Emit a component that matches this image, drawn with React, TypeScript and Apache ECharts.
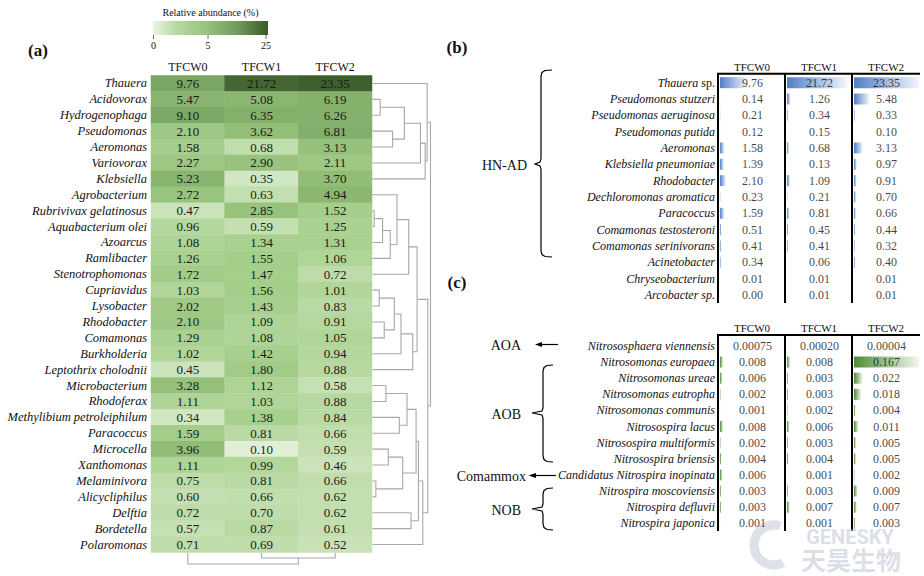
import React, { useEffect, useRef } from 'react';
import * as echarts from 'echarts';

// ---------- (a) heatmap data ----------
const samples = ['TFCW0', 'TFCW1', 'TFCW2'];
const genera = ['Thauera', 'Acidovorax', 'Hydrogenophaga', 'Pseudomonas', 'Aeromonas', 'Variovorax', 'Klebsiella', 'Agrobacterium', 'Rubrivivax gelatinosus', 'Aquabacterium olei', 'Azoarcus', 'Ramlibacter', 'Stenotrophomonas', 'Cupriavidus', 'Lysobacter', 'Rhodobacter', 'Comamonas', 'Burkholderia', 'Leptothrix cholodnii', 'Microbacterium', 'Rhodoferax', 'Methylibium petroleiphilum', 'Paracoccus', 'Microcella', 'Xanthomonas', 'Melaminivora', 'Alicycliphilus', 'Delftia', 'Bordetella', 'Polaromonas'];
const tfcw0 = [9.76, 5.47, 9.10, 2.10, 1.58, 2.27, 5.23, 2.72, 0.47, 0.96, 1.08, 1.26, 1.72, 1.03, 2.02, 2.10, 1.29, 1.02, 0.45, 3.28, 1.11, 0.34, 1.59, 3.96, 1.11, 0.75, 0.60, 0.72, 0.57, 0.71];
const tfcw1 = [21.72, 5.08, 6.35, 3.62, 0.68, 2.90, 0.35, 0.63, 2.85, 0.59, 1.34, 1.55, 1.47, 1.56, 1.43, 1.09, 1.08, 1.42, 1.80, 1.12, 1.03, 1.38, 0.81, 0.10, 0.99, 0.81, 0.66, 0.70, 0.87, 0.69];
const tfcw2 = [23.35, 6.19, 6.26, 6.81, 3.13, 2.11, 3.70, 4.94, 1.52, 1.25, 1.31, 1.06, 0.72, 1.01, 0.83, 0.91, 1.05, 0.94, 0.88, 0.58, 0.88, 0.84, 0.66, 0.59, 0.46, 0.66, 0.62, 0.62, 0.61, 0.52];
const legendTicks = ['0', '5', '25'];

// dendrogram merges: [childA, childB, height]; index >= leaves refers to earlier merge
const rowMerges = [[1, 2, 23], [3, 4, 60], [30, 31, 95], [32, 5, 143], [33, 6, 157], [0, 34, 163], [8, 9, 5], [36, 10, 30], [37, 11, 53], [7, 38, 73], [39, 12, 108], [13, 14, 20], [15, 16, 35], [41, 42, 65], [43, 17, 85], [44, 18, 120], [40, 45, 133], [19, 20, 40], [21, 22, 80], [47, 48, 103], [23, 24, 47], [25, 26, 10], [50, 51, 90], [49, 52, 130], [27, 28, 115], [53, 54, 137], [55, 29, 150], [46, 56, 165], [35, 57, 173]];
const colMerges = [[1, 2, 5], [0, 3, 11]];

// ---------- (b) HN-AD table ----------
const hnadSpecies = ['Thauera sp.', 'Pseudomonas stutzeri', 'Pseudomonas aeruginosa', 'Pseudomonas putida', 'Aeromonas', 'Klebsiella pneumoniae', 'Rhodobacter', 'Dechloromonas aromatica', 'Paracoccus', 'Comamonas testosteroni', 'Comamonas serinivorans', 'Acinetobacter', 'Chryseobacterium', 'Arcobacter sp.'];
const hnad0 = [9.76, 0.14, 0.21, 0.12, 1.58, 1.39, 2.10, 0.23, 1.59, 0.51, 0.41, 0.34, 0.01, 0.00];
const hnad1 = [21.72, 1.26, 0.34, 0.15, 0.68, 0.13, 1.09, 0.21, 0.81, 0.45, 0.41, 0.06, 0.01, 0.01];
const hnad2 = [23.35, 5.48, 0.33, 0.10, 3.13, 0.97, 0.91, 0.70, 0.66, 0.44, 0.32, 0.40, 0.01, 0.01];

// ---------- (c) nitrifier table ----------
const nitSpecies = ['Nitrososphaera viennensis', 'Nitrosomonas europaea', 'Nitrosomonas ureae', 'Nitrosomonas eutropha', 'Nitrosomonas communis', 'Nitrosospira lacus', 'Nitrosospira multiformis', 'Nitrosospira briensis', 'Candidatus Nitrospira inopinata', 'Nitrospira moscoviensis', 'Nitrospira defluvii', 'Nitrospira japonica'];
const nit0 = [0.00075, 0.008, 0.006, 0.002, 0.001, 0.008, 0.002, 0.004, 0.006, 0.003, 0.003, 0.001];
const nit1 = [0.00020, 0.008, 0.003, 0.003, 0.002, 0.006, 0.003, 0.004, 0.001, 0.003, 0.007, 0.001];
const nit2 = [0.00004, 0.167, 0.022, 0.018, 0.004, 0.011, 0.005, 0.005, 0.002, 0.009, 0.007, 0.003];

const FONT = 'Liberation Serif';

function buildLinks(nLeaves: number, merges: number[][]) {
  const pos: number[] = [];
  const hgt: number[] = [];
  for (let i = 0; i < nLeaves; i++) { pos.push(i); hgt.push(0); }
  const links: number[][] = [];
  merges.forEach(([a, b, h]) => {
    links.push([pos[a], hgt[a], pos[b], hgt[b], h]);
    pos.push((pos[a] + pos[b]) / 2);
    hgt.push(h);
  });
  return links;
}

function brace(x: number, y1: number, y2: number, ym: number, tipX: number, hookX: number) {
  return [
    [hookX, y1], [x + 4, y1 + 0.5], [x + 1, y1 + 2.5], [x, y1 + 6],
    [x, ym - 5], [x - 1, ym - 2], [tipX, ym], [x - 1, ym + 2], [x, ym + 5],
    [x, y2 - 6], [x + 1, y2 - 2.5], [x + 4, y2 - 0.5], [hookX, y2],
  ];
}

export default function App() {
  const ref = useRef<HTMLDivElement>(null);
  useEffect(() => {
    const chart = echarts.init(ref.current!, null, { renderer: 'svg' });

    const heatData: number[][] = [];
    [tfcw0, tfcw1, tfcw2].forEach((arr, c) => arr.forEach((v, r) => heatData.push([c, r, v, Math.log1p(v)])));
    const rowLinks = buildLinks(genera.length, rowMerges);
    const colLinks = buildLinks(samples.length, colMerges);

    const heatColors = ['#e8f3df', '#a9d18f', '#8fbb74', '#78a362', '#395a29'];

    const grids: any[] = [
      { left: 151, top: 75.5, width: 221, height: 477 },
      { left: 372.5, top: 75.5, width: 58, height: 477 },
      { left: 151, top: 553, width: 221, height: 11 },
    ];
    const xAxes: any[] = [
      {
        gridIndex: 0, type: 'category', data: samples, position: 'top',
        axisLine: { show: false }, axisTick: { show: false }, splitLine: { show: false },
        axisLabel: { fontFamily: FONT, fontSize: 12, color: '#111', margin: 3, interval: 0 },
      },
      { gridIndex: 1, type: 'value', min: 0, max: 173, show: false },
      { gridIndex: 2, type: 'value', min: -0.5, max: 2.5, show: false },
    ];
    const yAxes: any[] = [
      {
        gridIndex: 0, type: 'category', data: genera, inverse: true,
        axisLine: { show: false }, axisTick: { show: false }, splitLine: { show: false },
        axisLabel: { fontFamily: FONT, fontSize: 12.5, fontStyle: 'italic', color: '#111', margin: 4, interval: 0 },
      },
      { gridIndex: 1, type: 'value', min: -0.5, max: 29.5, inverse: true, show: false },
      { gridIndex: 2, type: 'value', min: 0, max: 11, inverse: true, show: false },
    ];
    const series: any[] = [
      {
        type: 'heatmap', xAxisIndex: 0, yAxisIndex: 0, data: heatData, silent: true,
        label: {
          show: true, fontFamily: FONT, fontSize: 13, color: '#1a1a1a',
          formatter: (p: any) => Number(p.value[2]).toFixed(2),
        },
        itemStyle: { borderWidth: 0 },
      },
      {
        type: 'custom', xAxisIndex: 1, yAxisIndex: 1, data: rowLinks, silent: true,
        renderItem: (params: any, api: any) => {
          const pA = api.value(0), hA = api.value(1), pB = api.value(2), hB = api.value(3), h = api.value(4);
          return {
            type: 'polyline',
            shape: { points: [api.coord([hA, pA]), api.coord([h, pA]), api.coord([h, pB]), api.coord([hB, pB])] },
            style: { stroke: '#a8a8a8', lineWidth: 1.1, fill: null },
          };
        },
      },
      {
        type: 'custom', xAxisIndex: 2, yAxisIndex: 2, data: colLinks, silent: true,
        renderItem: (params: any, api: any) => {
          const pA = api.value(0), hA = api.value(1), pB = api.value(2), hB = api.value(3), h = api.value(4);
          return {
            type: 'polyline',
            shape: { points: [api.coord([pA, hA]), api.coord([pA, h]), api.coord([pB, h]), api.coord([pB, hB])] },
            style: { stroke: '#a8a8a8', lineWidth: 1.1, fill: null },
          };
        },
      },
    ];

    const colLeft = [720, 787, 854];
    const colW = 65;
    const tables = [
      {
        species: hnadSpecies, cols: [hnad0, hnad1, hnad2], top: 74.5, rowH: 16.33,
        max: 23.35, c0: '#4f7fc6', c1: '#f2f6fc',
        fmt: (v: number, i: number) => v.toFixed(2),
      },
      {
        species: nitSpecies, cols: [nit0, nit1, nit2], top: 337.9, rowH: 16.12,
        max: 0.167, c0: '#4e8c34', c1: '#f1f7ee',
        fmt: (v: number, i: number) => (i === 0 ? v.toFixed(5) : v.toFixed(3)),
      },
    ];
    tables.forEach((t) => {
      t.cols.forEach((vals, c) => {
        const gi = grids.length;
        grids.push({ left: colLeft[c], top: t.top, width: colW, height: t.rowH * t.species.length });
        xAxes.push({ gridIndex: gi, type: 'value', min: 0, max: t.max, show: false });
        yAxes.push({
          gridIndex: gi, type: 'category', data: t.species, inverse: true,
          axisLine: { show: false }, axisTick: { show: false }, splitLine: { show: false },
          axisLabel: c === 0 ? {
            show: true, interval: 0, margin: 5, fontFamily: FONT, fontSize: 12, color: '#111',
            formatter: (v: string) => (v === 'Thauera sp.' ? '{i|Thauera} {n|sp.}' : '{i|' + v + '}'),
            rich: {
              i: { fontFamily: FONT, fontSize: 12, fontStyle: 'italic', color: '#111' },
              n: { fontFamily: FONT, fontSize: 12, color: '#111' },
            },
          } : { show: false },
        });
        series.push({
          type: 'bar', xAxisIndex: gi, yAxisIndex: gi, data: vals, barWidth: 11, silent: true,
          itemStyle: {
            color: new echarts.graphic.LinearGradient(0, 0, 1, 0, [
              { offset: 0, color: t.c0 }, { offset: 1, color: t.c1 },
            ]),
          },
        });
        series.push({
          type: 'scatter', xAxisIndex: gi, yAxisIndex: gi, silent: true,
          data: vals.map((v, i) => [t.max / 2, i]),
          symbolSize: 1, itemStyle: { color: 'rgba(0,0,0,0)' },
          label: {
            show: true, position: 'inside', fontFamily: FONT, fontSize: 12, color: '#111',
            formatter: (p: any) => t.fmt(vals[p.dataIndex], p.dataIndex),
          },
          labelLayout: { hideOverlap: false },
        });
      });
    });

    // ---------- graphics: legend, panel labels, table frames, braces ----------
    const g: any[] = [];
    const txt = (text: string, x: number, y: number, opts: any = {}) => g.push({
      type: 'text', x, y, silent: true,
      style: {
        text, fontFamily: FONT, fontSize: 12, fill: '#111', align: 'center', verticalAlign: 'middle', ...opts,
      },
    });
    const line = (x1: number, y1: number, x2: number, y2: number, w = 2, stroke = '#000') => g.push({
      type: 'line', silent: true, shape: { x1, y1, x2, y2 }, style: { stroke, lineWidth: w },
    });

    // legend
    txt('Relative abundance (%)', 210.5, 12, { fontSize: 10 });
    g.push({
      type: 'rect', silent: true, shape: { x: 153, y: 21, width: 115, height: 14 },
      style: {
        fill: new echarts.graphic.LinearGradient(0, 0, 1, 0, [
          { offset: 0, color: '#eaf4e2' }, { offset: 0.2, color: '#b9d9a3' }, { offset: 0.48, color: '#95c07b' },
          { offset: 0.75, color: '#6f985a' }, { offset: 1, color: '#3a5a29' },
        ]),
      },
    });
    const tickX = [153.5, 208, 266];
    legendTicks.forEach((s, i) => {
      line(tickX[i], 35, tickX[i], 39, 1, '#666');
      txt(s, tickX[i], 45.5, { fontSize: 10 });
    });

    // panel labels
    txt('(a)', 38, 50, { fontSize: 17, fontWeight: 'bold' });
    txt('(b)', 457, 47, { fontSize: 17, fontWeight: 'bold' });
    txt('(c)', 457, 282, { fontSize: 17, fontWeight: 'bold' });

    // table frames and headers
    const borders = [718, 785, 852];
    const headX = [752, 819, 886];
    [[73.7, 303, 67], [335, 531, 328]].forEach(([t, b, hy]) => {
      line(717, t, 920, t, 2);
      borders.forEach((x) => line(x, t, x, b, 2));
      samples.forEach((s, i) => txt(s, headX[i], hy, { fontSize: 11 }));
    });

    // braces and group labels
    const braceStyle = { stroke: '#000', lineWidth: 1.2, fill: null };
    g.push({ type: 'polyline', silent: true, shape: { points: brace(541, 70, 257, 164, 535, 552) }, style: braceStyle });
    txt('HN-AD', 527, 165, { fontSize: 14, align: 'right' });

    txt('AOA', 521, 345, { fontSize: 14, align: 'right' });
    line(541, 344.5, 558, 344.5, 1.2);
    g.push({ type: 'polygon', silent: true, shape: { points: [[535, 344.5], [542, 342], [542, 347]] }, style: { fill: '#000' } });

    g.push({ type: 'polyline', silent: true, shape: { points: brace(543, 365, 462, 413, 532, 553) }, style: braceStyle });
    txt('AOB', 521, 414, { fontSize: 14, align: 'right' });

    txt('Comammox', 526, 476, { fontSize: 14, align: 'right' });
    line(535, 475.5, 556, 475.5, 1.2);
    g.push({ type: 'polygon', silent: true, shape: { points: [[528.5, 475.5], [536, 473], [536, 478]] }, style: { fill: '#000' } });

    g.push({ type: 'polyline', silent: true, shape: { points: brace(543, 488, 530, 509, 532, 553) }, style: braceStyle });
    txt('NOB', 521, 510, { fontSize: 14, align: 'right' });

    // watermark
    g.push({
      type: 'arc', silent: true, shape: { cx: 774, cy: 545, r: 20, startAngle: Math.PI * 0.35, endAngle: Math.PI * 1.6 },
      style: { stroke: 'rgba(190,196,210,0.5)', lineWidth: 9, fill: null },
    });
    g.push({
      type: 'text', x: 850, y: 537, silent: true,
      style: { text: 'GENESKY', fontFamily: 'Roboto', fontWeight: 'bold', fontSize: 20, fill: 'rgba(190,196,210,0.55)', align: 'center', verticalAlign: 'middle' },
    });
    g.push({
      type: 'text', x: 851, y: 559, silent: true,
      style: { text: '天昊生物', fontFamily: 'Noto Sans CJK SC', fontWeight: 'bold', fontSize: 25, fill: 'rgba(190,196,210,0.55)', align: 'center', verticalAlign: 'middle' },
    });

    chart.setOption({
      animation: false,
      backgroundColor: '#ffffff',
      grid: grids,
      xAxis: xAxes,
      yAxis: yAxes,
      visualMap: {
        show: false, type: 'continuous', seriesIndex: 0, dimension: 3,
        min: 0, max: Math.log1p(25), inRange: { color: heatColors },
      },
      series,
      graphic: g,
    });
    return () => chart.dispose();
  }, []);
  return <div ref={ref} style={{ width: 924, height: 576, position: 'absolute', left: 0, top: 0 }} />;
}
